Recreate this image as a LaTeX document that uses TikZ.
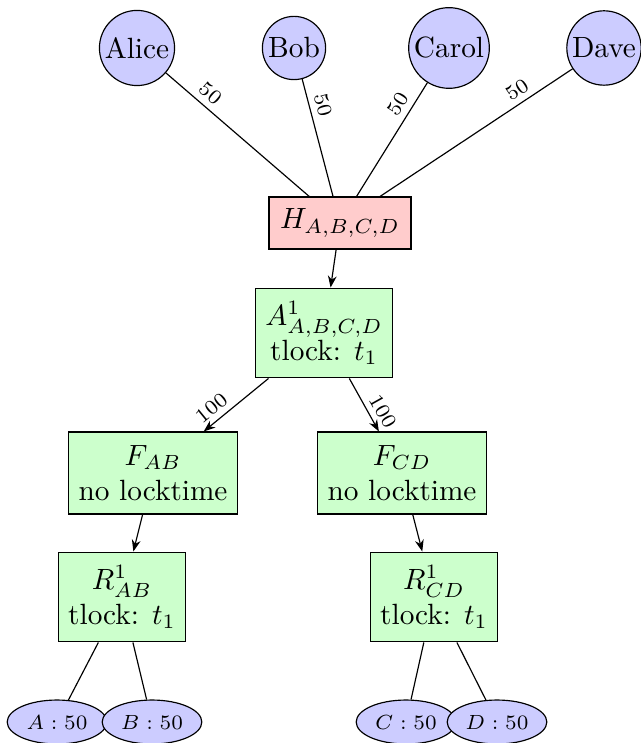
\documentclass[tikz,border=0pt]{standalone}
\usetikzlibrary{shapes.geometric,arrows.meta}
\begin{document}
\begin{tikzpicture}[x=0.3413pt,y=-0.3413pt,
  person/.style={circle,draw,fill=blue!20,inner sep=1pt},
  txbox/.style={rectangle,draw,fill=green!20,align=center,inner ysep=4.5pt},
  hbox/.style={rectangle,draw,fill=red!20,inner ysep=4pt,inner xsep=3.8pt},
  outp/.style={ellipse,draw,fill=blue!20,font=\scriptsize,minimum width=34pt,minimum height=15pt,inner sep=1pt},
  elab/.style={font=\scriptsize,sloped,above,inner sep=2pt},
  arr/.style={-{Stealth[length=4pt,width=3pt]}}]
\useasboundingbox (0,0) rectangle (640,743);
\node[person] (alice) at (137,48) {Alice};
\node[person] (bob) at (294,48) {Bob};
\node[person] (carol) at (449,48) {Carol};
\node[person] (dave) at (604,48) {Dave};
\node[hbox] (H) at (340,223) {$H_{A,B,C,D}$};
\node[txbox] (A) at (324,333) {$A^1_{A,B,C,D}$\\tlock: $t_1$};
\node[txbox] (FAB) at (153,473) {$F_{AB}$\\no locktime};
\node[txbox] (FCD) at (402,473) {$F_{CD}$\\no locktime};
\node[txbox] (RAB) at (122,597) {$R^1_{AB}$\\tlock: $t_1$};
\node[txbox] (RCD) at (434,597) {$R^1_{CD}$\\tlock: $t_1$};
\node[outp] (oa) at (57,722) {$A:50$};
\node[outp] (ob) at (152,722) {$B:50$};
\node[outp] (oc) at (406,722) {$C:50$};
\node[outp] (od) at (497,722) {$D:50$};
\draw (alice) -- node[elab,pos=0.25]{50} (H);
\draw (bob) -- node[elab,pos=0.25]{50} (H);
\draw (carol) -- node[elab,pos=0.25]{50} (H);
\draw (dave) -- node[elab,pos=0.25]{50} (H);
\draw[arr] (H) -- (A);
\draw[arr] (A) -- node[elab,pos=0.75]{100} (FAB);
\draw[arr] (A) -- node[elab,pos=0.75]{100} (FCD);
\draw[arr] (FAB) -- (RAB);
\draw[arr] (FCD) -- (RCD);
\draw (RAB) -- (oa);
\draw (RAB) -- (ob);
\draw (RCD) -- (oc);
\draw (RCD) -- (od);
\end{tikzpicture}
\end{document}
